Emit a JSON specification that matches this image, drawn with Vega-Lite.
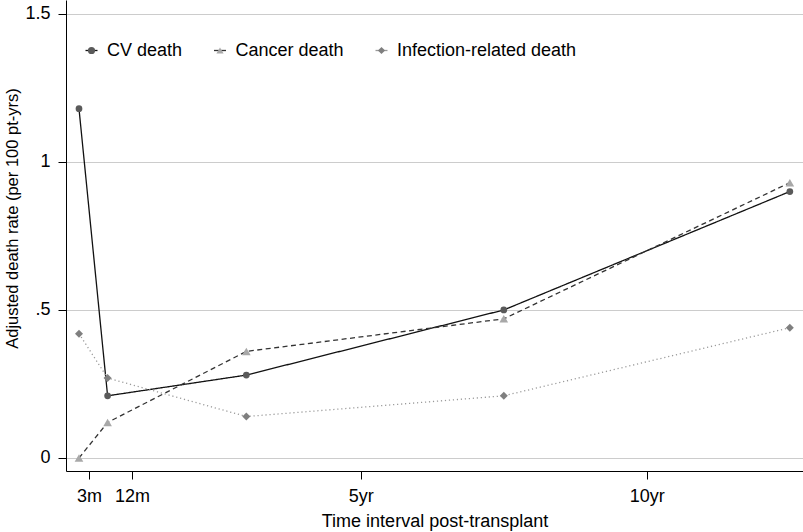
{
  "$schema": "https://vega.github.io/schema/vega-lite/v6.json",
  "width": 737,
  "height": 471,
  "autosize": {"type": "none"},
  "padding": {"left": 66, "top": 0, "right": 0, "bottom": 61},
  "background": "white",
  "config": {
    "view": {"stroke": null},
    "font": "Liberation Sans",
    "axis": {
      "domainColor": "#000000",
      "domainWidth": 1,
      "tickColor": "#000000",
      "tickWidth": 1,
      "tickSize": 8,
      "labelFont": "Liberation Sans",
      "labelFontSize": 18,
      "labelColor": "#000000",
      "titleFont": "Liberation Sans",
      "titleFontWeight": "normal",
      "titleColor": "#000000",
      "labelPadding": 8
    }
  },
  "data": {
    "values": [
      {"series": "CV death", "t": 0.075, "rate": 1.18},
      {"series": "CV death", "t": 0.575, "rate": 0.21},
      {"series": "CV death", "t": 3.0, "rate": 0.28},
      {"series": "CV death", "t": 7.5, "rate": 0.50},
      {"series": "CV death", "t": 12.5, "rate": 0.90},
      {"series": "Cancer death", "t": 0.075, "rate": 0.0},
      {"series": "Cancer death", "t": 0.575, "rate": 0.12},
      {"series": "Cancer death", "t": 3.0, "rate": 0.36},
      {"series": "Cancer death", "t": 7.5, "rate": 0.47},
      {"series": "Cancer death", "t": 12.5, "rate": 0.93},
      {"series": "Infection-related death", "t": 0.075, "rate": 0.42},
      {"series": "Infection-related death", "t": 0.575, "rate": 0.27},
      {"series": "Infection-related death", "t": 3.0, "rate": 0.14},
      {"series": "Infection-related death", "t": 7.5, "rate": 0.21},
      {"series": "Infection-related death", "t": 12.5, "rate": 0.44}
    ]
  },
  "encoding": {
    "x": {
      "field": "t",
      "type": "quantitative",
      "scale": {"domain": [-0.152, 12.73], "nice": false, "zero": false},
      "axis": {
        "title": "Time interval post-transplant",
        "titleFontSize": 18,
        "titleY": 55,
        "titleBaseline": "alphabetic",
        "values": [0.25, 1, 5, 10],
        "labelExpr": "datum.value == 0.25 ? '3m' : datum.value == 1 ? '12m' : datum.value == 5 ? '5yr' : '10yr'",
        "grid": false,
        "labelFlush": false,
        "labelOverlap": false
      }
    },
    "y": {
      "field": "rate",
      "type": "quantitative",
      "scale": {"domain": [-0.044, 1.547], "nice": false, "zero": false},
      "axis": {
        "title": "Adjusted death rate (per 100 pt-yrs)",
        "titleFontSize": 16.5,
        "titleAngle": 270,
        "titleX": -49,
        "titleY": 218,
        "titleAlign": "center",
        "titleBaseline": "alphabetic",
        "values": [0, 0.5, 1, 1.5],
        "labelExpr": "datum.value == 0 ? '0' : datum.value == 0.5 ? '.5' : datum.value == 1 ? '1' : '1.5'",
        "grid": true,
        "gridColor": "#cccccc",
        "gridWidth": 1,
        "labelFlush": false,
        "labelOverlap": false
      }
    }
  },
  "layer": [
    {
      "mark": {"type": "line", "strokeWidth": 1.3},
      "encoding": {
        "stroke": {
          "field": "series",
          "type": "nominal",
          "scale": {"range": ["#111111", "#333333", "#9a9a9a"]},
          "legend": {
            "title": null,
            "orient": "none",
            "legendX": 16.5,
            "legendY": 41.5,
            "direction": "horizontal",
            "columns": 3,
            "columnPadding": 28.5,
            "padding": 0,
            "labelFont": "Liberation Sans",
            "labelFontSize": 18,
            "labelColor": "rgba(0,0,0,0)",
            "labelLimit": 500,
            "labelOffset": 6.5,
            "symbolType": "stroke",
            "symbolSize": 144,
            "symbolStrokeWidth": 1.3
          }
        },
        "strokeDash": {
          "condition": [
            {"test": "datum.series == 'CV death'", "value": [1, 0]},
            {"test": "datum.series == 'Cancer death'", "value": [5, 3.5]}
          ],
          "value": [1.2, 2.8]
        }
      }
    },
    {
      "mark": {"type": "point", "filled": true, "opacity": 1, "strokeWidth": 0},
      "encoding": {
        "fill": {
          "field": "series",
          "type": "nominal",
          "scale": {"domain": ["CV death", "Cancer death", "Infection-related death"], "range": ["#5a5a5a", "#a8a8a8", "#7f7f7f"]},
          "legend": {
            "title": null,
            "orient": "none",
            "legendX": 16.5,
            "legendY": 41.5,
            "direction": "horizontal",
            "columns": 3,
            "columnPadding": 28.5,
            "padding": 0,
            "labelFont": "Liberation Sans",
            "labelFontSize": 18,
            "labelColor": "#000000",
            "labelLimit": 500,
            "labelOffset": 6.5,
            "symbolSize": 52,
            "symbolStrokeWidth": 0
          }
        },
        "shape": {
          "field": "series",
          "type": "nominal",
          "scale": {"domain": ["CV death", "Cancer death", "Infection-related death"], "range": ["circle", "triangle-up", "diamond"]},
          "legend": {
            "title": null,
            "orient": "none",
            "legendX": 16.5,
            "legendY": 41.5,
            "direction": "horizontal",
            "columns": 3,
            "columnPadding": 28.5,
            "padding": 0,
            "labelFont": "Liberation Sans",
            "labelFontSize": 18,
            "labelColor": "#000000",
            "labelLimit": 500,
            "labelOffset": 6.5,
            "symbolSize": 52,
            "symbolStrokeWidth": 0
          }
        },
        "size": {
          "condition": [
            {"test": "datum.series == 'CV death'", "value": 45},
            {"test": "datum.series == 'Cancer death'", "value": 75}
          ],
          "value": 64
        }
      }
    }
  ]
}
